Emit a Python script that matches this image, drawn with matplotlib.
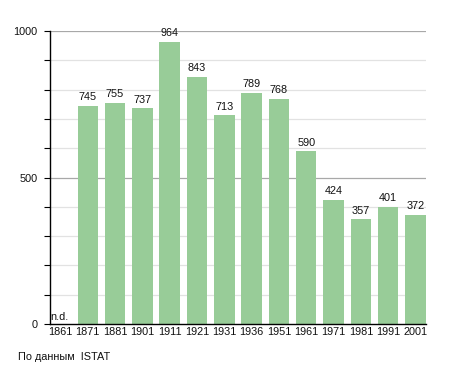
import matplotlib
matplotlib.use("Agg")
import matplotlib.pyplot as plt
from matplotlib.ticker import MultipleLocator

years = ["1861", "1871", "1881", "1901", "1911", "1921", "1931", "1936",
         "1951", "1961", "1971", "1981", "1991", "2001"]
population = [None, 745, 755, 737, 964, 843, 713, 789, 768, 590, 424, 357, 401, 372]
source_text = "По данным  ISTAT"

plt.rcParams['font.family'] = ['Liberation Sans', 'DejaVu Sans']
FS = 7.8
TXT = "#111111"

fig = plt.figure(figsize=(4.55, 3.73), dpi=100)
ax = fig.add_axes([50/455, 1-324/373, (425.7-50)/455, (324-31)/373])

bar_color = "#98cc98"
x = list(range(len(years)))
for i, v in enumerate(population):
    if v is None:
        ax.text(i - 0.36, 6, "n.d.", fontsize=FS, ha="left", va="bottom", color=TXT)
        continue
    ax.bar(i, v, width=0.75, color=bar_color, zorder=2)
    ax.text(i, v + 12, str(v), ha="center", va="bottom", fontsize=FS, color=TXT, zorder=3)

ax.set_xlim(-0.385, len(years) - 1 + 0.375)
ax.set_ylim(0, 1000)

for yv in range(100, 1001, 100):
    if yv % 500 == 0:
        ax.axhline(yv, color="#a8a8a8", lw=0.9, zorder=1)
    else:
        ax.axhline(yv, color="#e2e2e2", lw=0.9, zorder=1)

ax.set_xticks(x)
ax.set_xticklabels(years, fontsize=FS, color=TXT)
ax.tick_params(axis="x", length=0, pad=2.5)
ax.yaxis.set_major_locator(MultipleLocator(500))
ax.yaxis.set_minor_locator(MultipleLocator(100))
ax.tick_params(axis="y", which="major", length=4.3, width=0.8, labelsize=FS, pad=4.5, labelcolor=TXT)
ax.tick_params(axis="y", which="minor", length=4.3, width=0.8)

for s in ["top", "right"]:
    ax.spines[s].set_visible(False)
ax.spines["left"].set_linewidth(1.0)
ax.spines["bottom"].set_linewidth(1.0)

fig.text(18/455, 1-357/373, source_text, fontsize=FS, ha="left", va="center", color=TXT)

fig.savefig("out.png", dpi=100)
